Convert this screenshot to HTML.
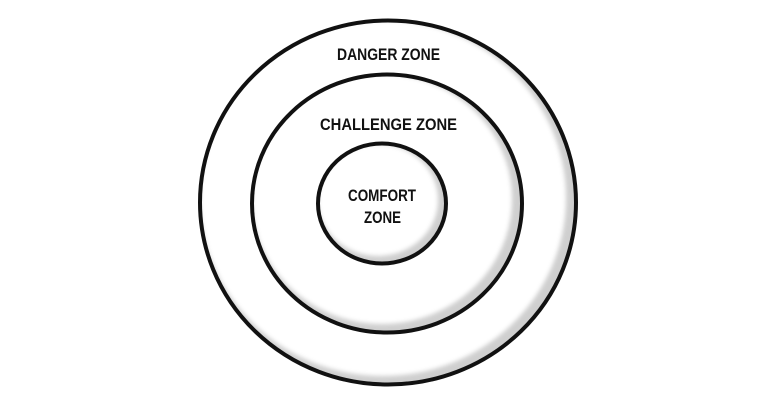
<!DOCTYPE html>
<html><head><meta charset="utf-8"><style>
html,body{margin:0;padding:0;background:#fff;width:769px;height:403px;overflow:hidden}
svg text{font-family:"Liberation Sans Narrow","Liberation Sans",sans-serif;font-weight:bold;fill:#111}
</style></head><body>
<svg width="769" height="403" viewBox="0 0 769 403" xmlns="http://www.w3.org/2000/svg">
<defs><filter id="b"><feGaussianBlur stdDeviation="2"/></filter>
<clipPath id="c1"><ellipse cx="388" cy="202.5" rx="188" ry="182"/></clipPath>
<clipPath id="c2"><ellipse cx="387" cy="203.5" rx="135" ry="129"/></clipPath>
<clipPath id="c3"><ellipse cx="382" cy="203.5" rx="64" ry="60"/></clipPath></defs>
<g clip-path="url(#c1)"><rect x="0" y="0" width="769" height="403" fill="#cfcfcf"/><ellipse cx="383" cy="198" rx="183" ry="178" fill="#fff" filter="url(#b)"/></g>
<ellipse cx="388" cy="202.5" rx="188" ry="182" fill="none" stroke="#111" stroke-width="4"/>
<g clip-path="url(#c2)"><rect x="0" y="0" width="769" height="403" fill="#cfcfcf"/><ellipse cx="382" cy="199" rx="130" ry="125" fill="#fff" filter="url(#b)"/></g>
<ellipse cx="387" cy="203.5" rx="135" ry="129" fill="none" stroke="#111" stroke-width="4"/>
<g clip-path="url(#c3)"><rect x="0" y="0" width="769" height="403" fill="#cfcfcf"/><ellipse cx="378" cy="200" rx="60" ry="56" fill="#fff" filter="url(#b)"/></g>
<ellipse cx="382" cy="203.5" rx="64" ry="60" fill="none" stroke="#111" stroke-width="4"/>
<text x="337" y="60" font-size="17" textLength="103" lengthAdjust="spacingAndGlyphs">DANGER ZONE</text>
<text x="320" y="130" font-size="17" textLength="137" lengthAdjust="spacingAndGlyphs">CHALLENGE ZONE</text>
<text x="348" y="201" font-size="17" textLength="68" lengthAdjust="spacingAndGlyphs">COMFORT</text>
<text x="364" y="223" font-size="17" textLength="37" lengthAdjust="spacingAndGlyphs">ZONE</text>
</svg>
</body></html>
